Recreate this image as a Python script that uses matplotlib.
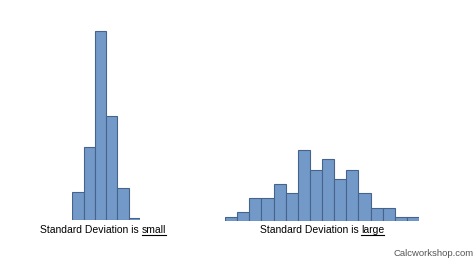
import matplotlib
matplotlib.use("Agg")
import matplotlib.pyplot as plt
from matplotlib.lines import Line2D

# data (bar heights, arbitrary units)
small_counts = [28, 73, 189, 104, 32, 2]
large_counts = [3.7, 9.3, 22.7, 22.7, 37, 28.3, 71, 51, 61.7, 42, 51, 28.3, 13, 13, 3.7, 3.7]
left_label = ("Standard Deviation is", "small")
right_label = ("Standard Deviation is", "large")
watermark = "Calcworkshop.com"

W, H = 474, 266
fig = plt.figure(figsize=(W / 100, H / 100), dpi=100)
fig.patch.set_facecolor("white")

FACE = "#7399c9"
EDGE = "#46638c"
FONT = "Liberation Sans"


def make_ax(left_px, right_px, base_px, counts):
    bottom = (H - base_px) / H
    height = 195 / H
    ax = fig.add_axes([left_px / W, bottom, (right_px - left_px) / W, height])
    x = list(range(len(counts)))
    ax.bar(x, counts, width=1.0, align="edge", color=FACE, edgecolor=EDGE, linewidth=0.8)
    ax.set_xlim(0, len(counts))
    ax.set_ylim(0, 195)
    ax.axis("off")
    return ax


make_ax(72.3, 140, 220, small_counts)
make_ax(225, 419, 221, large_counts)

fig.canvas.draw()
renderer = fig.canvas.get_renderer()


def label(x_start_px, x_end_px, base_y_px, parts):
    prefix, word = parts
    fs = 7.5
    t1 = fig.text(0, 0, prefix + " ", fontsize=fs, family=FONT, va="baseline")
    t2 = fig.text(0, 0, word, fontsize=fs, family=FONT, va="baseline")
    w1 = t1.get_window_extent(renderer).width
    w2 = t2.get_window_extent(renderer).width
    total = w1 + w2
    cx = (x_start_px + x_end_px) / 2
    x0 = cx - total / 2
    yf = (H - base_y_px) / H
    t1.set_position((x0 / W, yf))
    t2.set_position(((x0 + w1) / W, yf))
    fig.canvas.draw()
    bb = t2.get_window_extent(renderer)
    uy = (H - base_y_px - 2.0) / H
    fig.add_artist(Line2D([bb.x0 / W, bb.x1 / W], [uy, uy], color="black", linewidth=0.8,
                          transform=fig.transFigure))


label(41, 165, 233, left_label)
label(261, 383, 233, right_label)

fig.text(474 / W, (H - 253) / H, watermark, fontsize=6.8, family=FONT, color="#555555",
         ha="right", va="center")

fig.savefig("out.png", dpi=100)
